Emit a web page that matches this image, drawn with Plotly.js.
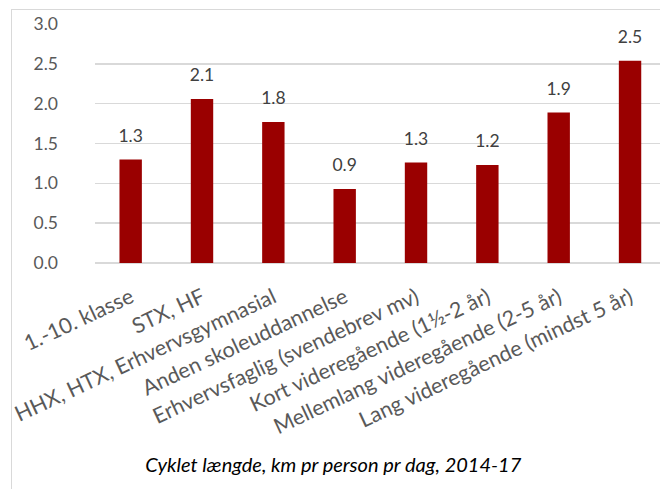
<!DOCTYPE html>
<html>
<head>
<meta charset="utf-8">
<script src="https://cdn.plot.ly/plotly-3.0.1.min.js"></script>
<style>
  html, body { margin: 0; padding: 0; background: #ffffff; }
  #wrap { position: relative; width: 660px; height: 489px; overflow: hidden; }
  #frame { position: absolute; left: 11px; top: 9px; width: 700px; height: 600px; border: 1px solid #d9d9d9; box-sizing: border-box; pointer-events: none; }
  #chart { position: absolute; left: 0; top: 0; width: 660px; height: 489px; }
</style>
</head>
<body>
<div id="wrap">
  <div id="chart"></div>
  <div id="frame"></div>
</div>
<script>
const categories = [
  "1.-10. klasse",
  "STX, HF",
  "HHX, HTX, Erhvervsgymnasial",
  "Anden skoleuddannelse",
  "Erhvervsfaglig (svendebrev mv)",
  "Kort videregående (1½-2 år)",
  "Mellemlang videregående (2-5 år)",
  "Lang videregående (mindst 5 år)"
];
const values = [1.30, 2.06, 1.77, 0.93, 1.26, 1.23, 1.89, 2.54];
const yTicks = [0, 0.5, 1.0, 1.5, 2.0, 2.5, 3.0];
const chartTitle = "Cyklet længde, km pr person pr dag, 2014-17";

const fontFam = "Lato, 'Open Sans', sans-serif";

const bars = {
  type: "bar",
  x: categories,
  y: values,
  marker: { color: "#9a0000" },
  hoverinfo: "x+y",
  cliponaxis: false
};

const labels = {
  type: "scatter",
  mode: "markers+text",
  x: categories,
  y: values,
  text: values.map(v => v.toFixed(1)),
  textposition: "top center",
  textfont: { family: fontFam, size: 17.5, color: "#404040" },
  marker: { size: 20, color: "rgba(0,0,0,0)" },
  hoverinfo: "skip",
  cliponaxis: false
};

const layout = {
  width: 660,
  height: 489,
  margin: { l: 95, r: 0, t: 24, b: 226 },
  paper_bgcolor: "rgba(0,0,0,0)",
  plot_bgcolor: "rgba(0,0,0,0)",
  showlegend: false,
  bargap: 0.686,
  font: { family: fontFam, color: "#595959" },
  title: {
    text: chartTitle,
    font: { family: fontFam, size: 20, color: "#000000", style: "italic" },
    xref: "container",
    yref: "container",
    x: 0.505,
    xanchor: "center",
    y: 0.049,
    yanchor: "middle"
  },
  xaxis: {
    type: "category",
    range: [-0.5, 7.42],
    tickangle: -25,
    tickfont: { family: fontFam, size: 21.5, color: "#595959" },
    showgrid: false,
    showline: false,
    ticks: "",
    ticklabelstandoff: 17,
    fixedrange: true
  },
  yaxis: {
    range: [0, 3],
    tickvals: yTicks,
    tickformat: ".1f",
    tickfont: { family: fontFam, size: 17.5, color: "#595959" },
    showgrid: true,
    gridcolor: "#d9d9d9",
    gridwidth: 1.5,
    zeroline: true,
    zerolinecolor: "#d9d9d9",
    zerolinewidth: 1.5,
    showline: false,
    ticks: "",
    ticklabelstandoff: 36,
    fixedrange: true
  }
};

Plotly.newPlot("chart", [bars, labels], layout, { displayModeBar: false, staticPlot: true });
</script>
</body>
</html>
